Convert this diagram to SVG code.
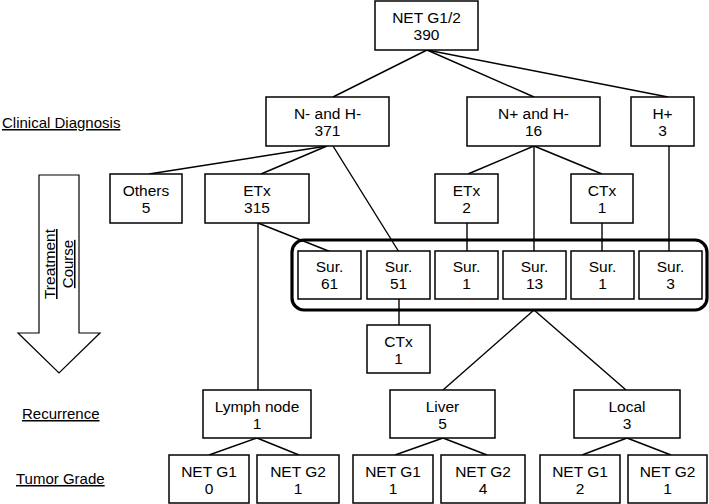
<svg xmlns="http://www.w3.org/2000/svg" width="709" height="504" viewBox="0 0 709 504">
<style>
.box{fill:#fff;stroke:#000;stroke-width:1.5}
.t{font-family:"Liberation Sans",Arial,sans-serif;font-size:15.5px;text-anchor:middle;fill:#000}
.lab{font-family:"Liberation Sans",Arial,sans-serif;font-size:15px;fill:#000;text-decoration:underline}
.c line{stroke:#000;stroke-width:1.4}
</style>
<rect width="709" height="504" fill="#fff"/>
<g id="labels">
<text class="lab" x="2" y="128">Clinical Diagnosis</text>
<text class="lab" x="22" y="419">Recurrence</text>
<text class="lab" x="16" y="484">Tumor Grade</text>
</g>
<g id="treatment-arrow">
<polygon points="39,175 79,175 79,333 100,333 59,373 18,333 39,333" fill="#fff" stroke="#000" stroke-width="1.2"/>
<text class="lab" transform="translate(55,264) rotate(-90)" text-anchor="middle" style="font-size:15.5px">Treatment</text>
<text class="lab" transform="translate(73,264) rotate(-90)" text-anchor="middle">Course</text>
</g>
<g class="c" id="connectors">
<line x1="427" y1="50" x2="333" y2="97"/>
<line x1="427" y1="50" x2="534" y2="97"/>
<line x1="427" y1="50" x2="668" y2="97"/>
<line x1="327" y1="146" x2="149" y2="174"/>
<line x1="327" y1="146" x2="261" y2="174"/>
<line x1="333" y1="146" x2="399" y2="252"/>
<line x1="534" y1="146" x2="468" y2="174"/>
<line x1="534" y1="146" x2="602" y2="174"/>
<line x1="534" y1="146" x2="534" y2="252"/>
<line x1="669" y1="146" x2="669" y2="252"/>
<line x1="467" y1="223" x2="467" y2="252"/>
<line x1="602" y1="223" x2="602" y2="252"/>
<line x1="258" y1="223" x2="331" y2="252"/>
<line x1="258" y1="223" x2="258" y2="390"/>
<line x1="399" y1="299" x2="399" y2="325"/>
<line x1="534" y1="310" x2="443" y2="390"/>
<line x1="534" y1="310" x2="626" y2="390"/>
<line x1="257" y1="438" x2="209" y2="455"/>
<line x1="257" y1="438" x2="299" y2="455"/>
<line x1="443" y1="438" x2="395" y2="455"/>
<line x1="443" y1="438" x2="487" y2="455"/>
<line x1="627" y1="438" x2="582" y2="455"/>
<line x1="627" y1="438" x2="671" y2="455"/>
</g>
<g id="surgery-group"><rect x="292" y="240" width="415" height="70" rx="12" fill="none" stroke="#000" stroke-width="3.2"/></g>
<g id="n-root"><rect class="box" x="375" y="1" width="103" height="49"/><text class="t" x="426.5" y="23">NET G1/2</text><text class="t" x="426.5" y="40">390</text></g>
<g id="n-nh"><rect class="box" x="266" y="97" width="123" height="49"/><text class="t" x="327.5" y="119">N- and H-</text><text class="t" x="327.5" y="136">371</text></g>
<g id="n-np"><rect class="box" x="467" y="97" width="133" height="49"/><text class="t" x="533.5" y="119">N+ and H-</text><text class="t" x="533.5" y="136">16</text></g>
<g id="n-hp"><rect class="box" x="631" y="97" width="63" height="49"/><text class="t" x="662.5" y="119">H+</text><text class="t" x="662.5" y="136">3</text></g>
<g id="n-others"><rect class="box" x="110" y="174" width="72" height="49"/><text class="t" x="146" y="196">Others</text><text class="t" x="146" y="213">5</text></g>
<g id="n-etx315"><rect class="box" x="205" y="174" width="104" height="49"/><text class="t" x="257" y="196">ETx</text><text class="t" x="257" y="213">315</text></g>
<g id="n-etx2"><rect class="box" x="435" y="174" width="63" height="49"/><text class="t" x="466.5" y="196">ETx</text><text class="t" x="466.5" y="213">2</text></g>
<g id="n-ctx1"><rect class="box" x="571" y="174" width="62" height="49"/><text class="t" x="602" y="196">CTx</text><text class="t" x="602" y="213">1</text></g>
<g id="n-sur61"><rect class="box" x="298" y="251" width="63" height="48"/><text class="t" x="329.5" y="272">Sur.</text><text class="t" x="329.5" y="289">61</text></g>
<g id="n-sur51"><rect class="box" x="367" y="251" width="63" height="48"/><text class="t" x="398.5" y="272">Sur.</text><text class="t" x="398.5" y="289">51</text></g>
<g id="n-sur1a"><rect class="box" x="435" y="251" width="63" height="48"/><text class="t" x="466.5" y="272">Sur.</text><text class="t" x="466.5" y="289">1</text></g>
<g id="n-sur13"><rect class="box" x="503" y="251" width="63" height="48"/><text class="t" x="534.5" y="272">Sur.</text><text class="t" x="534.5" y="289">13</text></g>
<g id="n-sur1b"><rect class="box" x="571" y="251" width="63" height="48"/><text class="t" x="602.5" y="272">Sur.</text><text class="t" x="602.5" y="289">1</text></g>
<g id="n-sur3"><rect class="box" x="639" y="251" width="63" height="48"/><text class="t" x="670.5" y="272">Sur.</text><text class="t" x="670.5" y="289">3</text></g>
<g id="n-ctx1b"><rect class="box" x="367" y="325" width="63" height="48"/><text class="t" x="398.5" y="347">CTx</text><text class="t" x="398.5" y="364">1</text></g>
<g id="n-lymph"><rect class="box" x="203" y="390" width="108" height="48"/><text class="t" x="257" y="412">Lymph node</text><text class="t" x="257" y="429">1</text></g>
<g id="n-liver"><rect class="box" x="390" y="390" width="105" height="48"/><text class="t" x="442.5" y="412">Liver</text><text class="t" x="442.5" y="429">5</text></g>
<g id="n-local"><rect class="box" x="574" y="390" width="106" height="48"/><text class="t" x="627" y="412">Local</text><text class="t" x="627" y="429">3</text></g>
<g id="n-g1a"><rect class="box" x="169" y="455" width="80" height="48"/><text class="t" x="209" y="477">NET G1</text><text class="t" x="209" y="494">0</text></g>
<g id="n-g2a"><rect class="box" x="257" y="455" width="82" height="48"/><text class="t" x="298" y="477">NET G2</text><text class="t" x="298" y="494">1</text></g>
<g id="n-g1b"><rect class="box" x="353" y="455" width="80" height="48"/><text class="t" x="393" y="477">NET G1</text><text class="t" x="393" y="494">1</text></g>
<g id="n-g2b"><rect class="box" x="441" y="455" width="84" height="48"/><text class="t" x="483" y="477">NET G2</text><text class="t" x="483" y="494">4</text></g>
<g id="n-g1c"><rect class="box" x="540" y="455" width="80" height="48"/><text class="t" x="580" y="477">NET G1</text><text class="t" x="580" y="494">2</text></g>
<g id="n-g2c"><rect class="box" x="628" y="455" width="79" height="48"/><text class="t" x="667.5" y="477">NET G2</text><text class="t" x="667.5" y="494">1</text></g>
</svg>
